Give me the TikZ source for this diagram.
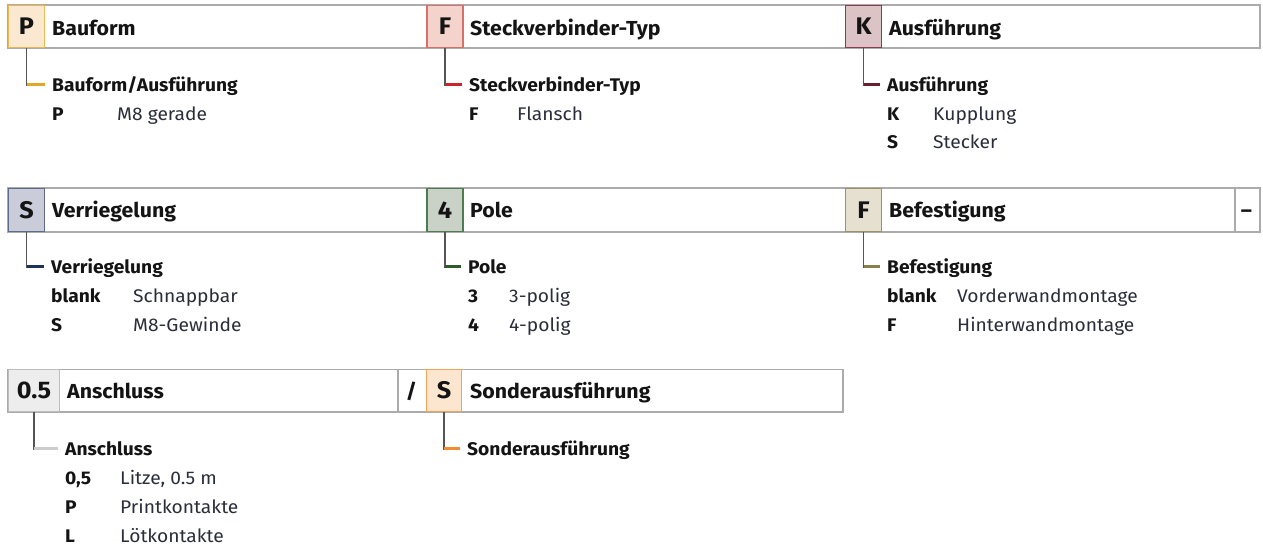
\documentclass[tikz,border=0pt]{standalone}
\usepackage{fontspec}
\setmainfont{Fira Sans}[FakeStretch=1.05]
\usetikzlibrary{calc}
\definecolor{framegray}{HTML}{ABABAB}
\definecolor{vgray}{HTML}{555555}
\definecolor{txtbold}{HTML}{141414}
\definecolor{txtreg}{HTML}{2A2D3A}
\definecolor{cPfill}{HTML}{FBE8D0}\definecolor{cPdraw}{HTML}{E9B850}\definecolor{cPline}{HTML}{E2A628}
\definecolor{cFafill}{HTML}{F3D3CC}\definecolor{cFadraw}{HTML}{D5706A}\definecolor{cFaline}{HTML}{C8262C}
\definecolor{cKfill}{HTML}{DCC3C6}\definecolor{cKdraw}{HTML}{8E3B4C}\definecolor{cKline}{HTML}{6B1E30}
\definecolor{cSfill}{HTML}{CACDD9}\definecolor{cSdraw}{HTML}{5B6B88}\definecolor{cSline}{HTML}{1E3457}
\definecolor{cVfill}{HTML}{CAD2C7}\definecolor{cVdraw}{HTML}{4F7B53}\definecolor{cVline}{HTML}{2C5A28}
\definecolor{cFbfill}{HTML}{E6E0D1}\definecolor{cFbdraw}{HTML}{9C9263}\definecolor{cFbline}{HTML}{8A7F4C}
\definecolor{cAfill}{HTML}{EDEDED}\definecolor{cAdraw}{HTML}{BDBDBD}\definecolor{cAline}{HTML}{CCCCCC}
\definecolor{cOfill}{HTML}{FDE6CF}\definecolor{cOdraw}{HTML}{F2A45A}\definecolor{cOline}{HTML}{F38B35}
\tikzset{
  rowframe/.style={draw=framegray,line width=1.7pt},
  codebox/.style 2 args={draw=#1,fill=#2,line width=1.5pt,inner sep=0pt,
     font=\fontsize{24}{24}\selectfont\bfseries,text=txtbold},
  hdr/.style={anchor=base west,inner sep=0pt,font=\fontsize{20.3}{20.3}\selectfont\bfseries,text=txtbold},
  ttl/.style={anchor=west,inner xsep=7.5pt,inner ysep=0pt,text height=12.6pt,text depth=0pt,
     font=\fontsize{18.3}{18.3}\selectfont\bfseries,text=txtbold},
  keyt/.style={anchor=base west,inner sep=0pt,font=\fontsize{18.3}{18.3}\selectfont\bfseries,text=txtbold},
  valt/.style={anchor=base west,inner sep=0pt,font=\fontsize{18.3}{18.3}\selectfont,text=txtreg},
  vline/.style={draw=vgray,line width=1.7pt},
  hline/.style={draw=#1,line width=2.6pt},
}
\begin{document}
\begin{tikzpicture}[x=1pt,y=-1pt]
\useasboundingbox[fill=white] (0,0) rectangle (1263,546);

% ---------------- Row 1 ----------------
\draw[rowframe] (8,5) rectangle (1260,48);
\node[codebox={cPdraw}{cPfill},minimum width=36pt,minimum height=42pt] (bP) at (26.5,26.5) {P};
\node[codebox={cFadraw}{cFafill},minimum width=36pt,minimum height=42pt] (bFa) at (445,26.5) {F};
\node[codebox={cKdraw}{cKfill},minimum width=36pt,minimum height=42pt] (bK) at (863.5,26.5) {K};
\node[hdr] (hP) at (52,35) {Bauform};
\node[hdr] (hFa) at (470,35) {Steckverbinder-Typ};
\node[hdr] (hK) at (889,35) {Ausführung};

\node[ttl] (tP) at (44.5,84.7) {Bauform/Ausführung};
\node[keyt] (kP1) at (52,120) {P};
\node[valt] (vP1) at (117,120) {M8 gerade};

\node[ttl] (tFa) at (461.5,84.7) {Steckverbinder-Typ};
\node[keyt] (kFa1) at (469,120) {F};
\node[valt] (vFa1) at (517,120) {Flansch};

\node[ttl] (tK) at (879.5,84.7) {Ausführung};
\node[keyt] (kK1) at (887,120) {K};
\node[valt] (vK1) at (933,120) {Kupplung};
\node[keyt] (kK2) at (887,148.5) {S};
\node[valt] (vK2) at (933,148.5) {Stecker};

% ---------------- Row 2 ----------------
\draw[rowframe] (8,188) rectangle (1260,232);
\draw[rowframe] (1235,188) -- (1235,232);
\node[hdr,anchor=base] (hDash) at (1246.5,217.5) {–};
\node[codebox={cSdraw}{cSfill},minimum width=36pt,minimum height=43pt] (bS) at (26.5,210) {S};
\node[codebox={cVdraw}{cVfill},minimum width=36pt,minimum height=43pt] (bV) at (445,210) {4};
\node[codebox={cFbdraw}{cFbfill},minimum width=36pt,minimum height=43pt] (bFb) at (863.5,210) {F};
\node[hdr] (hS) at (52,217.5) {Verriegelung};
\node[hdr] (hV) at (470,217.5) {Pole};
\node[hdr] (hFb) at (889,217.5) {Befestigung};

\node[ttl] (tS) at (43.5,266.7) {Verriegelung};
\node[keyt] (kS1) at (51,302.5) {blank};
\node[valt] (vS1) at (133,302.5) {Schnappbar};
\node[keyt] (kS2) at (51,331) {S};
\node[valt] (vS2) at (133,331) {M8-Gewinde};

\node[ttl] (tV) at (460.5,266.7) {Pole};
\node[keyt] (kV1) at (468,302.5) {3};
\node[valt] (vV1) at (509,302.5) {3-polig};
\node[keyt] (kV2) at (468,331) {4};
\node[valt] (vV2) at (509,331) {4-polig};

\node[ttl] (tFb) at (879.5,266.7) {Befestigung};
\node[keyt] (kFb1) at (887,302.5) {blank};
\node[valt] (vFb1) at (957,302.5) {Vorderwandmontage};
\node[keyt] (kFb2) at (887,331) {F};
\node[valt] (vFb2) at (957,331) {Hinterwandmontage};

% ---------------- Row 3 ----------------
\draw[rowframe] (8,369.5) rectangle (843,412);
\draw[rowframe] (398,369.5) -- (398,412);
\node[hdr,anchor=base] (hSlash) at (411.5,398.5) {/};
\node[codebox={cAdraw}{cAfill},minimum width=51pt,minimum height=42pt] (bA) at (34,390.5) {0.5};
\node[codebox={cOdraw}{cOfill},minimum width=35pt,minimum height=42pt] (bO) at (444,390.5) {S};
\node[hdr] (hA) at (67,398.5) {Anschluss};
\node[hdr] (hO) at (470,398.5) {Sonderausführung};

\node[ttl] (tA) at (57.5,448.7) {Anschluss};
\node[keyt] (kA1) at (65,484) {0,5};
\node[valt] (vA1) at (120,484) {Litze, 0.5 m};
\node[keyt] (kA2) at (65,513) {P};
\node[valt] (vA2) at (120,513) {Printkontakte};
\node[keyt] (kA3) at (65,542) {L};
\node[valt] (vA3) at (120,542) {Lötkontakte};

\node[ttl] (tO) at (459.5,448.7) {Sonderausführung};

% ---------------- Connectors ----------------
\foreach \b/\t/\c in {bP/tP/cPline, bFa/tFa/cFaline, bK/tK/cKline,
                      bS/tS/cSline, bV/tV/cVline, bFb/tFb/cFbline,
                      bA/tA/cAline, bO/tO/cOline}{
  \coordinate (\b-corner) at (\b.south |- \t.west);
  \draw[vline] (\b.south) -- ($(\b-corner)+(0,0.85)$);
  \draw[hline=\c] (\b-corner) -- (\t.west);
}
\end{tikzpicture}
\end{document}
